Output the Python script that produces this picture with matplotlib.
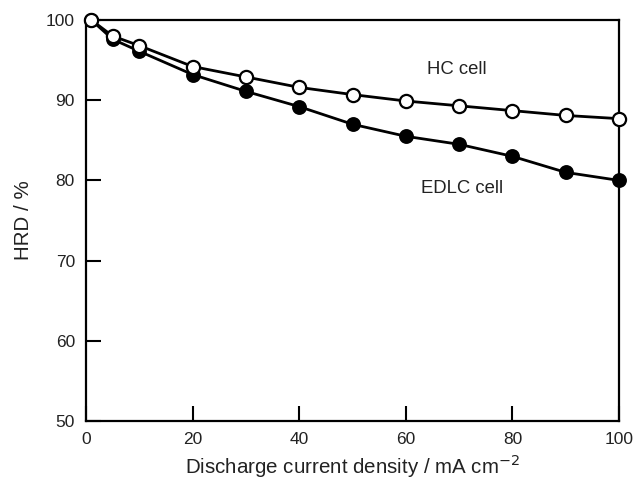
import matplotlib
matplotlib.use("Agg")
import matplotlib.pyplot as plt

plt.rcParams['font.family'] = ['Liberation Sans', 'DejaVu Sans']

# discharge current density (mA cm-2)
current = [1, 5, 10, 20, 30, 40, 50, 60, 70, 80, 90, 100]
# HRD values (%)
hrd_hc = [100, 98.0, 96.8, 94.2, 92.9, 91.6, 90.7, 89.9, 89.3, 88.7, 88.1, 87.7]
hrd_edlc = [100, 97.6, 96.1, 93.2, 91.1, 89.2, 87.0, 85.5, 84.5, 83.0, 81.0, 80.0]

x_ticks = [0, 20, 40, 60, 80, 100]
y_ticks = [50, 60, 70, 80, 90, 100]

fig = plt.figure(figsize=(6.35, 4.83), dpi=100)
ax = fig.add_axes([86 / 635, 1 - 421 / 483, 533 / 635, 401 / 483])

ax.plot(current, hrd_edlc, '-o', color='black', lw=2, ms=9.5,
        mfc='black', mec='black', mew=1.2, clip_on=False, zorder=3)
ax.plot(current, hrd_hc, '-o', color='black', lw=2, ms=9.5,
        mfc='white', mec='black', mew=1.6, clip_on=False, zorder=4)

ax.text(69.5, 93.8, 'HC cell', fontsize=13.3, ha='center', va='center', color='#222222')
ax.text(70.5, 79.0, 'EDLC cell', fontsize=13.3, ha='center', va='center', color='#222222')

ax.set_xlim(0, 100)
ax.set_ylim(50, 100)
ax.set_xticks(x_ticks)
ax.set_yticks(y_ticks)
ax.tick_params(direction='in', length=11, width=1.5, labelsize=12.5, pad=8,
               top=False, right=False, labelcolor='#222222')
for s in ax.spines.values():
    s.set_linewidth(1.6)

ax.set_xlabel('Discharge current density / mA cm$^{-2}$', fontsize=14.8,
              labelpad=4, color='#222222')
ax.set_ylabel('HRD / %', fontsize=14.8, labelpad=9, color='#222222')

fig.savefig('out.png', dpi=100)
